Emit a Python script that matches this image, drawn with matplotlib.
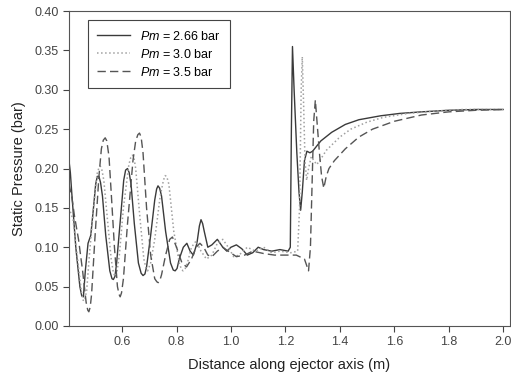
import numpy as np
import matplotlib
matplotlib.use("Agg")
from matplotlib import pyplot as plt

plt.rcParams['font.family'] = ['Liberation Sans', 'DejaVu Sans']
plt.rcParams['mathtext.fontset'] = 'custom'
plt.rcParams['mathtext.it'] = 'Liberation Sans:italic'
plt.rcParams['mathtext.rm'] = 'Liberation Sans'

# Pm = 2.66 bar
x_266 = [0.405, 0.41, 0.415, 0.43, 0.445, 0.452, 0.458, 0.465, 0.475, 0.485, 0.495, 0.503,
         0.509, 0.515, 0.521, 0.528, 0.54, 0.555, 0.563, 0.568, 0.574, 0.58, 0.595, 0.606,
         0.613, 0.62, 0.626, 0.633, 0.645, 0.66, 0.67, 0.677, 0.684, 0.69, 0.705, 0.72,
         0.727, 0.732, 0.738, 0.745, 0.76, 0.778, 0.788, 0.795, 0.802, 0.81, 0.825, 0.838,
         0.85, 0.862, 0.875, 0.884, 0.89, 0.896, 0.902, 0.915, 0.93, 0.95, 0.97, 0.985,
         1.0, 1.02, 1.04, 1.06, 1.08, 1.1, 1.12, 1.15, 1.18, 1.21, 1.218, 1.222,
         1.226, 1.232, 1.242, 1.25, 1.256, 1.262, 1.27, 1.279, 1.29, 1.30, 1.33, 1.37,
         1.42, 1.47, 1.55, 1.62, 1.7, 1.8, 1.9, 2.0]
p_266 = [0.21, 0.195, 0.17, 0.10, 0.05, 0.038, 0.037, 0.07, 0.105, 0.115, 0.15, 0.18,
         0.19, 0.19, 0.182, 0.165, 0.115, 0.07, 0.06, 0.059, 0.063, 0.08, 0.14, 0.185,
         0.198, 0.20, 0.195, 0.18, 0.13, 0.08, 0.067, 0.064, 0.066, 0.075, 0.115, 0.16,
         0.174, 0.178, 0.175, 0.165, 0.12, 0.08, 0.071, 0.07, 0.073, 0.085, 0.10, 0.105,
         0.095, 0.09, 0.105, 0.127, 0.135, 0.13, 0.12, 0.10, 0.103, 0.11, 0.10, 0.095,
         0.10, 0.103, 0.098, 0.09, 0.093, 0.10, 0.097, 0.095, 0.097, 0.095, 0.10, 0.25,
         0.355, 0.30, 0.22, 0.17, 0.147, 0.17, 0.21, 0.222, 0.22, 0.222, 0.235, 0.246,
         0.256, 0.262, 0.267, 0.27, 0.272, 0.274, 0.275, 0.275]

# Pm = 3.0 bar
x_30 = [0.405, 0.42, 0.435, 0.45, 0.456, 0.462, 0.47, 0.48, 0.495, 0.508, 0.515, 0.52,
        0.526, 0.533, 0.545, 0.56, 0.568, 0.574, 0.581, 0.59, 0.605, 0.625, 0.632, 0.638,
        0.644, 0.65, 0.665, 0.68, 0.688, 0.694, 0.705, 0.72, 0.74, 0.752, 0.758, 0.764,
        0.772, 0.79, 0.81, 0.818, 0.824, 0.832, 0.84, 0.855, 0.872, 0.89, 0.91, 0.93,
        0.95, 0.97, 0.99, 1.01, 1.03, 1.06, 1.09, 1.12, 1.15, 1.18, 1.22, 1.245,
        1.252, 1.258, 1.262, 1.267, 1.272, 1.278, 1.285, 1.295, 1.305, 1.315, 1.33, 1.35,
        1.40, 1.44, 1.5, 1.56, 1.65, 1.75, 1.85, 2.0]
p_30 = [0.15, 0.135, 0.09, 0.045, 0.033, 0.032, 0.045, 0.09, 0.15, 0.193, 0.201, 0.203,
        0.198, 0.185, 0.14, 0.085, 0.068, 0.063, 0.068, 0.09, 0.15, 0.205, 0.214, 0.217,
        0.213, 0.20, 0.14, 0.085, 0.073, 0.07, 0.08, 0.11, 0.165, 0.185, 0.191, 0.19,
        0.18, 0.12, 0.08, 0.072, 0.07, 0.073, 0.08, 0.10, 0.108, 0.095, 0.085, 0.09,
        0.105, 0.11, 0.10, 0.088, 0.09, 0.10, 0.095, 0.10, 0.093, 0.095, 0.093, 0.095,
        0.15, 0.30, 0.342, 0.28, 0.21, 0.185, 0.20, 0.215, 0.21, 0.205, 0.212, 0.223,
        0.24, 0.25, 0.259, 0.265, 0.27, 0.273, 0.275, 0.275]

# Pm = 3.5 bar
x_35 = [0.405, 0.415, 0.425, 0.44, 0.455, 0.468, 0.474, 0.478, 0.483, 0.488, 0.5, 0.515,
        0.524, 0.531, 0.538, 0.544, 0.552, 0.56, 0.572, 0.583, 0.589, 0.593, 0.598, 0.605,
        0.62, 0.64, 0.65, 0.658, 0.664, 0.67, 0.677, 0.69, 0.705, 0.72, 0.728, 0.733,
        0.739, 0.745, 0.76, 0.775, 0.785, 0.8, 0.82, 0.837, 0.855, 0.872, 0.886, 0.9,
        0.915, 0.93, 0.95, 0.97, 0.99, 1.02, 1.05, 1.08, 1.12, 1.16, 1.2, 1.24,
        1.27, 1.28, 1.285, 1.292, 1.298, 1.304, 1.31, 1.316, 1.325, 1.333, 1.341, 1.35,
        1.36, 1.38, 1.42, 1.47, 1.52, 1.6, 1.7, 1.8, 1.9, 2.0]
p_35 = [0.18, 0.165, 0.14, 0.11, 0.07, 0.03, 0.02, 0.018, 0.024, 0.04, 0.11, 0.19,
        0.225, 0.236, 0.239, 0.235, 0.215, 0.17, 0.10, 0.05, 0.04, 0.037, 0.042, 0.06,
        0.13, 0.21, 0.235, 0.243, 0.245, 0.24, 0.22, 0.15, 0.09, 0.06, 0.056, 0.055,
        0.058, 0.065, 0.09, 0.11, 0.113, 0.10, 0.08, 0.075, 0.085, 0.10, 0.105, 0.10,
        0.09, 0.088, 0.095, 0.10, 0.095, 0.088, 0.09, 0.095, 0.092, 0.09, 0.09, 0.09,
        0.085, 0.075, 0.07, 0.10, 0.18, 0.26, 0.287, 0.26, 0.22, 0.19, 0.175, 0.19,
        0.20, 0.21, 0.225, 0.24, 0.25, 0.26, 0.268, 0.272, 0.274, 0.275]

fig = plt.figure(figsize=(5.11, 3.83), dpi=100)
ax = fig.add_axes([0.135, 0.149, 0.863, 0.822])

ax.plot(x_266, p_266, '-', color='#3a3a3a', lw=1.0, label=r'$Pm$ = 2.66 bar')
ax.plot(x_30, p_30, ':', color='#a0a0a0', lw=1.1, label=r'$Pm$ = 3.0 bar')
ax.plot(x_35, p_35, '--', color='#555555', lw=1.0, dashes=(6, 3), label=r'$Pm$ = 3.5 bar')

ax.set_xlim(0.405, 2.025)
ax.set_ylim(0, 0.40)
ax.set_xticks(np.arange(0.6, 2.01, 0.2))
ax.set_yticks(np.arange(0, 0.401, 0.05))
ax.xaxis.set_major_formatter(matplotlib.ticker.FormatStrFormatter('%.1f'))
ax.yaxis.set_major_formatter(matplotlib.ticker.FormatStrFormatter('%.2f'))
ax.tick_params(direction='out', length=4, width=0.8, labelsize=9,
               colors='#444444', labelcolor='#444444')
for s in ax.spines.values():
    s.set_color('#555555')
    s.set_linewidth(0.8)

ax.set_xlabel('Distance along ejector axis (m)', fontsize=10.5, color='#222222', labelpad=7)
ax.set_ylabel('Static Pressure (bar)', fontsize=10.5, color='#222222', labelpad=6)

leg = ax.legend(loc='upper left', bbox_to_anchor=(0.043, 0.971), borderaxespad=0,
                fontsize=9, handlelength=2.6, fancybox=False, framealpha=1,
                edgecolor='#444444', borderpad=0.75, labelspacing=0.4)
leg.get_frame().set_linewidth(0.8)

plt.savefig('out.png', dpi=100)
